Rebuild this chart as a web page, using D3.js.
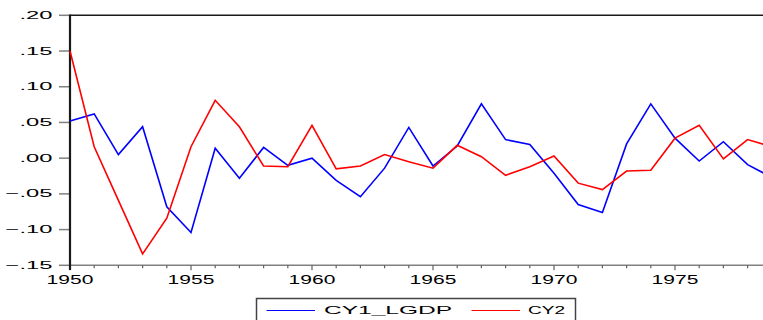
<!DOCTYPE html>
<html>
<head>
<meta charset="utf-8">
<script src="https://cdn.jsdelivr.net/npm/d3@7"></script>
<style>
  html, body { margin: 0; padding: 0; background: #fff; }
  svg { display: block; }
  text { font-family: "Liberation Sans", Arial, sans-serif; fill: #000; }
</style>
</head>
<body>
<svg id="chart" width="763" height="320"></svg>
<script>
// Annual observations, 1950-1979
const years = d3.range(1950, 1980);
const cy1Lgdp = [0.052, 0.062, 0.005, 0.044, -0.068, -0.104, 0.014, -0.028, 0.015, -0.010,
                 0.000, -0.031, -0.054, -0.014, 0.043, -0.011, 0.017, 0.076, 0.026, 0.019,
                 -0.021, -0.065, -0.076, 0.020, 0.076, 0.028, -0.004, 0.023, -0.009, -0.027];
const cy2 = [0.150, 0.016, -0.059, -0.134, -0.084, 0.016, 0.081, 0.044, -0.011, -0.012,
             0.046, -0.015, -0.011, 0.005, -0.005, -0.014, 0.018, 0.002, -0.024, -0.012,
             0.003, -0.035, -0.044, -0.018, -0.017, 0.028, 0.046, -0.001, 0.026, 0.016];
const yTicks = [0.20, 0.15, 0.10, 0.05, 0.00, -0.05, -0.10, -0.15];
const xMajor = [1950, 1955, 1960, 1965, 1970, 1975];
const seriesNames = ["CY1_LGDP", "CY2"];
const seriesColors = ["#0000ff", "#ff0000"];

const svg = d3.select("#chart");
const x = d3.scaleLinear().domain([1950, 1979]).range([70, 771.8]);
const y = d3.scaleLinear().domain([-0.15, 0.20]).range([265.3, 15.3]);

// stretch text horizontally to the wide look of the axis labels
function widen(sel, factor) {
  sel.each(function () {
    const w = this.getComputedTextLength();
    d3.select(this).attr("textLength", w * factor).attr("lengthAdjust", "spacingAndGlyphs");
  });
}

const fmt = v => d3.format(".2f")(v).replace("0.", ".");

// y ticks and labels
const yg = svg.append("g");
yg.selectAll("line").data(yTicks).join("line")
  .attr("x1", 59).attr("x2", 70)
  .attr("y1", d => y(d)).attr("y2", d => y(d))
  .attr("stroke", "#808080").attr("stroke-width", 1.5);
yg.selectAll("text").data(yTicks).join("text")
  .attr("x", 52.5).attr("y", d => y(d) + 3.6)
  .attr("text-anchor", "end").attr("font-size", 10)
  .text(fmt)
  .call(widen, 2.37);

// x axis line and ticks
const xg = svg.append("g");
xg.append("line").attr("x1", 70).attr("x2", 763).attr("y1", y(-0.15)).attr("y2", y(-0.15))
  .attr("stroke", "#808080").attr("stroke-width", 1.5);
xg.selectAll("line.minor").data(years).join("line").attr("class", "minor")
  .attr("x1", d => x(d)).attr("x2", d => x(d))
  .attr("y1", y(-0.15)).attr("y2", d => y(-0.15) + (d % 5 === 0 ? 5 : 3))
  .attr("stroke", "#606060").attr("stroke-width", 1.2);
xg.selectAll("text").data(xMajor).join("text")
  .attr("x", d => x(d)).attr("y", 283.5)
  .attr("text-anchor", "middle").attr("font-size", 12.5)
  .text(d => d)
  .call(widen, 1.68);

// frame: top border and heavy left axis
svg.append("line").attr("x1", 70).attr("x2", 763).attr("y1", 15.3).attr("y2", 15.3)
  .attr("stroke", "#1a1a1a").attr("stroke-width", 1.5);
svg.append("line").attr("x1", 70).attr("x2", 70).attr("y1", 14.5).attr("y2", 270)
  .attr("stroke", "#1a1a1a").attr("stroke-width", 2.2);

// series lines
const line = d3.line().x((d, i) => x(years[i])).y(d => y(d));
[cy1Lgdp, cy2].forEach((vals, k) => {
  svg.append("path").datum(vals)
    .attr("d", line)
    .attr("fill", "none")
    .attr("stroke", seriesColors[k])
    .attr("stroke-width", 1.6)
    .attr("stroke-linejoin", "miter");
});

// legend
const lg = svg.append("g");
lg.append("rect").attr("x", 256.5).attr("y", 298.5).attr("width", 319).attr("height", 30)
  .attr("fill", "#fff").attr("stroke", "#444").attr("stroke-width", 1.5);
const legendItems = [
  { name: seriesNames[0], color: seriesColors[0], x0: 266.5, x1: 315, tx: 324, tw: 128 },
  { name: seriesNames[1], color: seriesColors[1], x0: 471.5, x1: 520, tx: 528, tw: 37 }
];
legendItems.forEach(it => {
  lg.append("line").attr("x1", it.x0).attr("x2", it.x1).attr("y1", 310.5).attr("y2", 310.5)
    .attr("stroke", it.color).attr("stroke-width", 1);
  lg.append("text").attr("x", it.tx).attr("y", 314).attr("font-size", 10)
    .attr("textLength", it.tw).attr("lengthAdjust", "spacingAndGlyphs")
    .text(it.name);
});
</script>
</body>
</html>
